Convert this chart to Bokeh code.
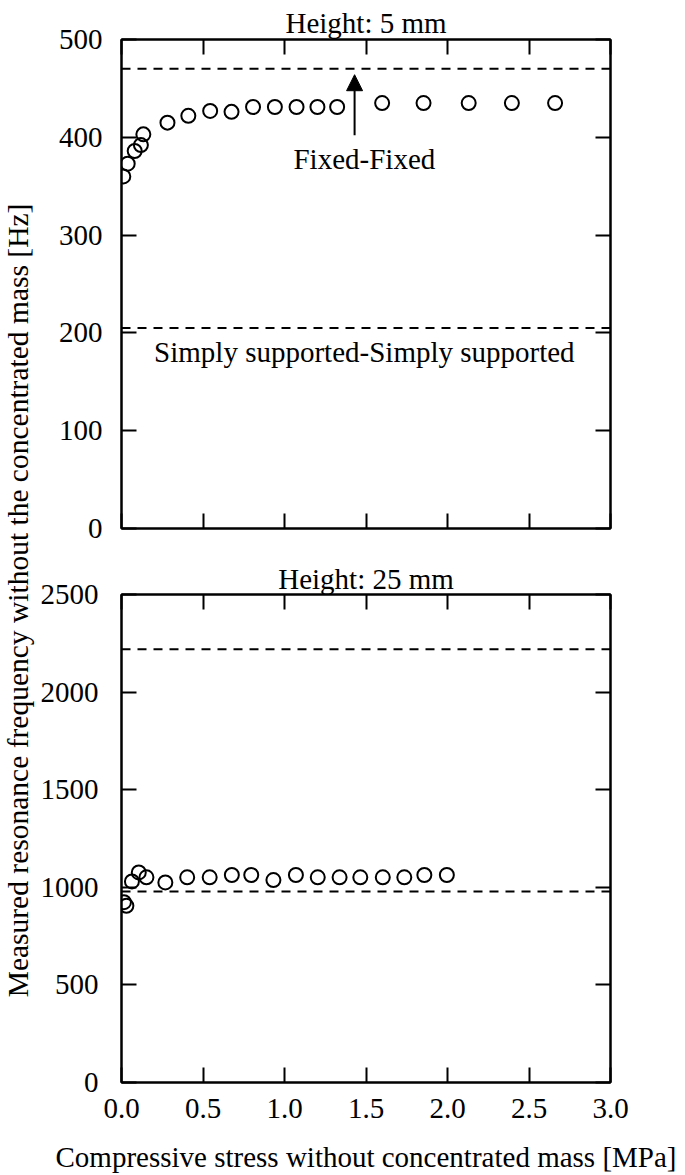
import math
from bokeh.plotting import figure
from bokeh.models import Range1d, FixedTicker, LinearAxis, Span, Arrow, NormalHead, Title
from bokeh.layouts import row, column
from bokeh.core.properties import value
from bokeh.embed import file_html
from bokeh.resources import INLINE

# ---------------- data ----------------
x_ticks = [0.0, 0.5, 1.0, 1.5, 2.0, 2.5, 3.0]
x_tick_labels = ["0.0", "0.5", "1.0", "1.5", "2.0", "2.5", "3.0"]
top_y_ticks = [0, 100, 200, 300, 400, 500]
top_y_labels = ["0", "100", "200", "300", "400", "500"]
bottom_y_ticks = [0, 500, 1000, 1500, 2000, 2500]
bottom_y_labels = ["0", "500", "1000", "1500", "2000", "2500"]

top_title = "Height: 5 mm"
bottom_title = "Height: 25 mm"
x_label = "Compressive stress without concentrated mass [MPa]"
y_label = "Measured resonance frequency without the concentrated mass [Hz]"

top_stress = [0.011, 0.038, 0.081, 0.119, 0.134, 0.282, 0.410, 0.544, 0.675, 0.807,
              0.941, 1.074, 1.202, 1.323, 1.599, 1.853, 2.130, 2.395, 2.660]
top_freq = [360, 373, 386, 392, 403, 415, 422, 427, 426, 431,
            431, 431, 431, 431, 435, 435, 435, 435, 435]

bottom_stress = [0.015, 0.030, 0.064, 0.106, 0.153, 0.269, 0.403, 0.541, 0.677, 0.796,
                 0.932, 1.070, 1.204, 1.338, 1.465, 1.603, 1.735, 1.858, 1.996]
bottom_freq = [924, 905, 1030, 1076, 1051, 1025, 1051, 1051, 1063, 1063,
               1037, 1063, 1051, 1051, 1051, 1051, 1051, 1063, 1063]

top_fixed_fixed = 470
top_simply = 205
bottom_fixed_fixed = 2220
bottom_simply = 978

arrow_stress = 1.43
arrow_from = 402
arrow_to = 464
fixed_label = "Fixed-Fixed"
fixed_label_pos = (1.49, 378)
simply_label = "Simply supported-Simply supported"
simply_label_pos = (1.49, 180)

# ---------------- style ----------------
FONT = "Liberation Serif"
FS = "29px"
LW = 2
TICK = 15
YLW = 36                 # width of the y-label strip
PW = 685 - YLW           # width of plot columns
BL = 121 - YLW           # left border -> frame starts at x=121
BR = PW - BL - 489       # frame 489 px wide


def style_axis(ax, ticks, labels=None, standoff=0):
    ax.ticker = FixedTicker(ticks=ticks)
    ax.major_tick_in = TICK
    ax.major_tick_out = 0
    ax.minor_tick_line_color = None
    ax.axis_line_width = LW
    ax.axis_line_color = "black"
    ax.major_tick_line_width = LW
    ax.major_tick_line_color = "black"
    if labels is None:
        ax.major_label_text_font_size = "0px"
        ax.major_label_standoff = 0
    else:
        ax.major_label_overrides = {t: l for t, l in zip(ticks, labels)}
        ax.major_label_text_font = FONT
        ax.major_label_text_font_size = FS
        ax.major_label_text_color = "black"
        ax.major_label_standoff = standoff


def panel(height, y_max, y_ticks, y_labels, x_labels, left_standoff, bt, bb,
          title, title_standoff):
    p = figure(width=PW, height=height, x_range=Range1d(0, 3), y_range=Range1d(0, y_max),
               toolbar_location=None, output_backend="svg",
               min_border_left=BL, min_border_right=BR, min_border_top=bt,
               min_border_bottom=bb)
    p.title = Title(text=title, align="center", text_font=FONT, text_font_size=FS,
                    text_font_style="normal", text_color="black",
                    standoff=title_standoff)
    p.grid.visible = False
    p.outline_line_color = "black"
    p.outline_line_width = LW
    bottom_ax = p.below[0]
    style_axis(bottom_ax, x_ticks, x_labels, 16)
    style_axis(p.left[0], y_ticks, y_labels, left_standoff)
    top_ax = LinearAxis()
    style_axis(top_ax, x_ticks)
    p.add_layout(top_ax, "above")
    right_ax = LinearAxis()
    style_axis(right_ax, y_ticks)
    p.add_layout(right_ax, "right")
    return p, bottom_ax


def dashed(p, loc):
    p.add_layout(Span(location=loc, dimension="width", line_color="black",
                      line_width=LW, line_dash="9 7"))


def note(p, pos, txt):
    p.text(x=[pos[0]], y=[pos[1]], text=[txt], text_align="center",
           text_baseline="middle", text_font=value(FONT),
           text_font_size=value(FS), text_color="black")


# ---------------- top panel ----------------
p1, _ = panel(560, 500, top_y_ticks, top_y_labels, None, 19, 39, 32, top_title, 1)
dashed(p1, top_fixed_fixed)
dashed(p1, top_simply)
p1.scatter(top_stress, top_freq, marker="circle", size=14, fill_color=None,
           line_color="black", line_width=LW)
p1.add_layout(Arrow(end=NormalHead(size=16, fill_color="black", line_color="black"),
                    x_start=arrow_stress, y_start=arrow_from,
                    x_end=arrow_stress, y_end=arrow_to,
                    line_width=LW, line_color="black"))
note(p1, fixed_label_pos, fixed_label)
note(p1, simply_label_pos, simply_label)

# ---------------- bottom panel ----------------
p2, xax = panel(615, 2500, bottom_y_ticks, bottom_y_labels, x_tick_labels, 23, 34, 92,
                bottom_title, 0)
xax.axis_label = x_label
xax.axis_label_text_font = FONT
xax.axis_label_text_font_size = FS
xax.axis_label_text_font_style = "normal"
xax.axis_label_text_color = "black"
xax.axis_label_standoff = 20
dashed(p2, bottom_fixed_fixed)
dashed(p2, bottom_simply)
p2.scatter(bottom_stress, bottom_freq, marker="circle", size=14, fill_color=None,
           line_color="black", line_width=LW)

# ---------------- shared y label strip ----------------
YLH = 1175
yl = figure(width=YLW, height=YLH, x_range=Range1d(0, YLW), y_range=Range1d(0, YLH),
            toolbar_location=None, output_backend="svg", min_border=0,
            x_axis_location=None, y_axis_location=None)
yl.grid.visible = False
yl.outline_line_color = None
yl.text(x=[17], y=[YLH - 600], text=[y_label], angle=math.pi / 2,
        text_align="center", text_baseline="middle", text_font=value(FONT),
        text_font_size=value("29.5px"), text_color="black")

layout = row(yl, column(p1, p2))

open("out.html", "w").write(file_html(layout, INLINE))
